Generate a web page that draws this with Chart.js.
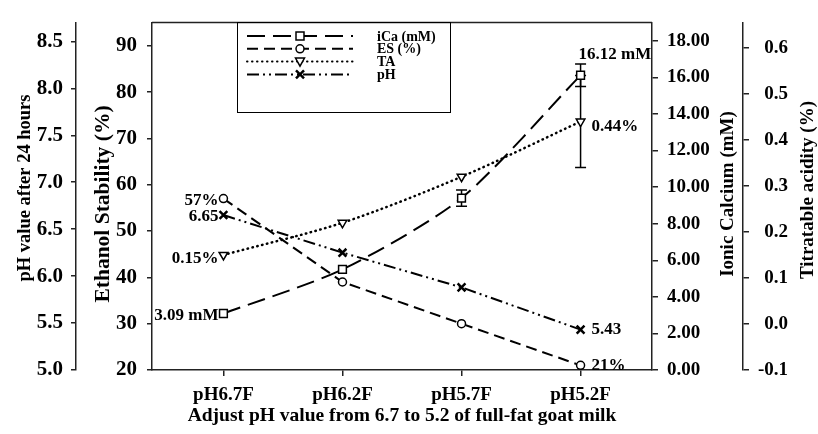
<!DOCTYPE html>
<html>
<head>
<meta charset="utf-8">
<script src="https://cdn.jsdelivr.net/npm/chart.js@4.4.0/dist/chart.umd.min.js"></script>
<style>
  body { margin: 0; background: #fff; }
  canvas { display: block; }
</style>
</head>
<body>
<canvas id="chart" width="818" height="434"></canvas>
<script>
// values
const categories = ['pH6.7F', 'pH6.2F', 'pH5.7F', 'pH5.2F'];
const icaValues = [3.09, 5.5, 9.4, 16.12];
const icaErrors = [0, 0, 0.45, 0.61];
const esValues = [57, 39, 30, 21];
const taValues = [0.15, 0.22, 0.32, 0.44];
const taErrors = [0, 0, 0, 0.1];
const phValues = [6.65, 6.25, 5.88, 5.43];

const phTicks = [5.0, 5.5, 6.0, 6.5, 7.0, 7.5, 8.0, 8.5];
const esTicks = [20, 30, 40, 50, 60, 70, 80, 90];
const icaTicks = [0, 2, 4, 6, 8, 10, 12, 14, 16, 18];
const taTicks = [-0.1, 0, 0.1, 0.2, 0.3, 0.4, 0.5, 0.6];

const seriesNames = ['iCa (mM)', 'ES (%)', 'TA', 'pH'];
const firstLabels = ['3.09 mM', '57%', '0.15%', '6.65'];
const lastLabels = ['16.12 mM', '21%', '0.44%', '5.43'];

const SERIF = "'Liberation Serif', 'Times New Roman', serif";
const INK = '#000';
const AXIS = '#222';

function pts(vals) {
    return vals.map((v, i) => ({x: i, y: v}));
}

function fixTicks(list) {
    return function(scale) {
        scale.ticks = list.map(v => ({value: v}));
    };
}

function fixWidth(w) {
    return function(scale) { scale.width = w; };
}

function drawMarker(ctx, style, x, y) {
    ctx.save();
    ctx.setLineDash([]);
    ctx.strokeStyle = INK;
    ctx.fillStyle = '#fff';
    ctx.lineWidth = 1.5;
    ctx.beginPath();
    if (style === 'rect') {
        ctx.rect(x - 4, y - 4, 8, 8);
        ctx.fill(); ctx.stroke();
    } else if (style === 'circle') {
        ctx.arc(x, y, 4, 0, Math.PI * 2);
        ctx.fill(); ctx.stroke();
    } else if (style === 'triangle') {
        ctx.moveTo(x - 4.5, y - 3.5);
        ctx.lineTo(x + 4.5, y - 3.5);
        ctx.lineTo(x, y + 4.5);
        ctx.closePath();
        ctx.fill(); ctx.stroke();
    } else {
        ctx.lineWidth = 2.5;
        ctx.moveTo(x - 4, y - 4); ctx.lineTo(x + 4, y + 4);
        ctx.moveTo(x + 4, y - 4); ctx.lineTo(x - 4, y + 4);
        ctx.stroke();
    }
    ctx.restore();
}

function vTitle(ctx, text, x, y, size) {
    ctx.save();
    ctx.translate(x, y);
    ctx.rotate(-Math.PI / 2);
    ctx.font = 'bold ' + size + 'px ' + SERIF;
    ctx.fillStyle = INK;
    ctx.textAlign = 'center';
    ctx.textBaseline = 'middle';
    ctx.fillText(text, 0, 0);
    ctx.restore();
}

const extras = {
    id: 'extras',
    beforeDatasetsDraw(chart) {
        // error bars
        const ctx = chart.ctx;
        const xs = chart.scales.x;
        ctx.save();
        ctx.strokeStyle = INK;
        ctx.lineWidth = 1.5;
        [[chart.scales.yCa, icaValues, icaErrors], [chart.scales.yTA, taValues, taErrors]].forEach(([sc, vals, errs]) => {
            vals.forEach((v, i) => {
                if (!errs[i]) return;
                const x = xs.getPixelForValue(i);
                const y1 = sc.getPixelForValue(v + errs[i]);
                const y2 = sc.getPixelForValue(v - errs[i]);
                ctx.beginPath();
                ctx.moveTo(x, y1); ctx.lineTo(x, y2);
                ctx.moveTo(x - 5.5, y1); ctx.lineTo(x + 5.5, y1);
                ctx.moveTo(x - 5.5, y2); ctx.lineTo(x + 5.5, y2);
                ctx.stroke();
            });
        });
        ctx.restore();
    },
    afterDraw(chart) {
        const ctx = chart.ctx;
        const area = chart.chartArea;
        const xs = chart.scales.x;

        // top frame line
        ctx.save();
        ctx.strokeStyle = AXIS;
        ctx.lineWidth = 1.5;
        ctx.beginPath();
        ctx.moveTo(area.left, area.top);
        ctx.lineTo(area.right, area.top);
        ctx.stroke();
        ctx.restore();

        // axis titles
        vTitle(ctx, 'pH value after 24 hours', 25, 188, 18.5);
        vTitle(ctx, 'Ethanol Stability (%)', 103, 204, 21.5);
        vTitle(ctx, 'Ionic Calcium (mM)', 728, 194, 19);
        vTitle(ctx, 'Titratable acidity (%)', 808, 190, 19);

        // point labels
        ctx.save();
        ctx.font = 'bold 17px ' + SERIF;
        ctx.fillStyle = INK;
        ctx.textBaseline = 'middle';
        const scaleIds = ['yCa', 'yES', 'yTA', 'yPH'];
        const vals = [icaValues, esValues, taValues, phValues];
        scaleIds.forEach((id, k) => {
            const sc = chart.scales[id];
            const n = vals[k].length - 1;
            const x0 = xs.getPixelForValue(0);
            const y0 = sc.getPixelForValue(vals[k][0]);
            ctx.textAlign = 'right';
            ctx.fillText(firstLabels[k], x0 - 5, y0 + (k === 2 ? 4 : 2));
            const x1 = xs.getPixelForValue(n);
            const y1 = sc.getPixelForValue(vals[k][n]);
            ctx.textAlign = 'left';
            if (k === 0) {
                ctx.fillText(lastLabels[k], x1 - 2, y1 - 21);
            } else {
                ctx.fillText(lastLabels[k], x1 + 11, y1 + (k === 2 ? 5 : 0));
            }
        });
        ctx.restore();

        // legend box
        ctx.save();
        ctx.strokeStyle = INK;
        ctx.lineWidth = 1;
        ctx.strokeRect(237.5, 22.5, 213, 90);
        chart.data.datasets.forEach((ds, i) => {
            const y = 36 + i * 12.8;
            ctx.save();
            ctx.strokeStyle = INK;
            ctx.lineWidth = 2;
            ctx.lineCap = ds.borderCapStyle || 'butt';
            ctx.setLineDash(ds.borderDash);
            ctx.beginPath();
            ctx.moveTo(247, y);
            ctx.lineTo(353, y);
            ctx.stroke();
            ctx.restore();
            drawMarker(ctx, ds.pointStyle, 300, y);
            ctx.font = 'bold 14px ' + SERIF;
            ctx.fillStyle = INK;
            ctx.textAlign = 'left';
            ctx.textBaseline = 'middle';
            ctx.fillText(seriesNames[i], 377, y + 1);
        });
        ctx.restore();
    }
};

const leftFont = {family: SERIF, size: 21, weight: 'bold'};
const rightFont = {family: SERIF, size: 19, weight: 'bold'};

function yAxis(pos, weight, min, max, list, digits, width, font) {
    return {
        type: 'linear',
        position: pos,
        weight: weight,
        min: min,
        max: max,
        afterBuildTicks: fixTicks(list),
        afterFit: fixWidth(width),
        border: {display: true, color: AXIS, width: 1.5},
        grid: {drawOnChartArea: false, drawTicks: true, tickLength: 5, color: AXIS, lineWidth: 1.5},
        ticks: {
            color: INK,
            font: font,
            padding: 8,
            callback: v => Number(v).toFixed(digits)
        },
        title: {display: false}
    };
}

const phAxis = yAxis('left', 1, 5.0, 8.7, phTicks, 1, 76, leftFont);
const esAxis = yAxis('left', 0, 20, 95, esTicks, 0, 76, leftFont);
esAxis.ticks.padding = 10;
const caAxis = yAxis('right', 0, 0, 19, icaTicks, 2, 91, rightFont);
caAxis.grid.tickLength = 6;
caAxis.ticks.padding = 9;
const taAxis = yAxis('right', 1, -0.1, 0.655, taTicks, 1, 45, rightFont);
taAxis.grid.tickLength = 6;
taAxis.ticks.crossAlign = 'far';

new Chart(document.getElementById('chart'), {
    type: 'line',
    data: {
        datasets: [
            {
                label: seriesNames[0], data: pts(icaValues), yAxisID: 'yCa',
                borderColor: INK, borderWidth: 2, borderDash: [18, 8], tension: 0.25,
                pointStyle: 'rect', pointRadius: 5.5, pointBorderWidth: 1.5,
                pointBackgroundColor: '#fff', pointBorderColor: INK
            },
            {
                label: seriesNames[1], data: pts(esValues), yAxisID: 'yES',
                borderColor: INK, borderWidth: 2, borderDash: [11, 6], tension: 0,
                pointStyle: 'circle', pointRadius: 4, pointBorderWidth: 1.5,
                pointBackgroundColor: '#fff', pointBorderColor: INK
            },
            {
                label: seriesNames[2], data: pts(taValues), yAxisID: 'yTA',
                borderColor: INK, borderWidth: 2.5, borderDash: [0.5, 4.5], borderCapStyle: 'round', tension: 0.3,
                pointStyle: 'triangle', pointRotation: 180, pointRadius: 5, pointBorderWidth: 1.5,
                pointBackgroundColor: '#fff', pointBorderColor: INK
            },
            {
                label: seriesNames[3], data: pts(phValues), yAxisID: 'yPH',
                borderColor: INK, borderWidth: 2, borderDash: [12, 4, 2, 4, 2, 4], tension: 0,
                pointStyle: 'crossRot', pointRadius: 5.5, pointBorderWidth: 2.5,
                pointBackgroundColor: '#fff', pointBorderColor: INK
            }
        ]
    },
    options: {
        responsive: false,
        animation: false,
        devicePixelRatio: 1,
        layout: {padding: {left: 0, right: 30, top: 12, bottom: 0}},
        plugins: {legend: {display: false}, tooltip: {enabled: false}},
        scales: {
            x: {
                type: 'linear',
                position: 'bottom',
                min: -0.6,
                max: 3.6,
                afterBuildTicks: fixTicks([0, 1, 2, 3]),
                afterFit: function(scale) { scale.height = 64; },
                border: {display: true, color: AXIS, width: 1.5},
                grid: {drawOnChartArea: false, drawTicks: true, tickLength: 6, color: AXIS, lineWidth: 1.5},
                ticks: {
                    color: INK,
                    font: {family: SERIF, size: 19, weight: 'bold'},
                    padding: 8,
                    maxRotation: 0,
                    callback: v => categories[v]
                },
                title: {
                    display: true,
                    text: 'Adjust pH value from 6.7 to 5.2 of full-fat goat milk',
                    color: INK,
                    font: {family: SERIF, size: 19.5, weight: 'bold'},
                    padding: {top: 0, bottom: 6}
                }
            },
            yPH: phAxis,
            yES: esAxis,
            yCa: caAxis,
            yTA: taAxis
        }
    },
    plugins: [extras]
});
</script>
</body>
</html>
